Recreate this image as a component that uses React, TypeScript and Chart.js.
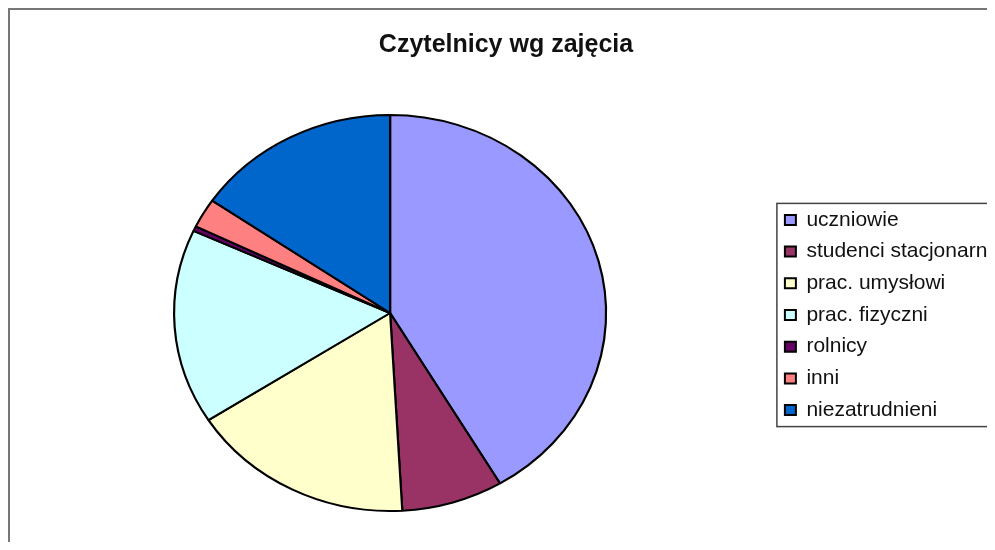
import React, { useEffect, useRef } from "react";
import { Chart, registerables } from "chart.js";

Chart.register(...registerables);

const titleText = "Czytelnicy wg zajęcia";
const categories = [
  "uczniowie",
  "studenci stacjonarni",
  "prac. umysłowi",
  "prac. fizyczni",
  "rolnicy",
  "inni",
  "niezatrudnieni",
];
const shares = [41.5, 7.6, 16.8, 15.9, 0.4, 2.4, 15.4];
const sliceColors = ["#9999FF", "#993366", "#FFFFCC", "#CCFFFF", "#660066", "#FF8080", "#0066CC"];

const stretchPlugin = {
  id: "stretchPie",
  beforeDatasetsDraw(chart: any) {
    const arc = chart.getDatasetMeta(0).data[0];
    if (!arc) return;
    const ctx = chart.ctx;
    const ox = arc.x + 22;
    ctx.save();
    ctx.translate(ox, arc.y);
    ctx.scale(216 / 198, 1);
    ctx.translate(-ox, -arc.y);
  },
  afterDatasetsDraw(chart: any) {
    chart.ctx.restore();
  },
};

const legendFramePlugin = {
  id: "legendFrame",
  afterDraw(chart: any) {
    const boxes = chart.legend && chart.legend.legendHitBoxes;
    if (!boxes || !boxes.length) return;
    const ctx = chart.ctx;
    let left = Infinity, top = Infinity, right = -Infinity, bottom = -Infinity;
    boxes.forEach((b: any) => {
      left = Math.min(left, b.left);
      top = Math.min(top, b.top);
      right = Math.max(right, b.left + b.width);
      bottom = Math.max(bottom, b.top + b.height);
    });
    ctx.save();
    ctx.strokeStyle = "#444";
    ctx.lineWidth = 1.5;
    ctx.strokeRect(left - 8, top - 6, right - left + 30, bottom - top + 12);
    ctx.restore();
  },
};

export default function App() {
  const ref = useRef<HTMLCanvasElement>(null);
  useEffect(() => {
    document.documentElement.style.overflow = "hidden";
    if (!ref.current) return;
    const chart = new Chart(ref.current, {
      type: "pie",
      data: {
        labels: categories,
        datasets: [
          {
            data: shares,
            backgroundColor: sliceColors,
            borderColor: "#000",
            borderWidth: 2,
            radius: 198,
          },
        ],
      },
      options: {
        responsive: false,
        animation: false,
        layout: { padding: { left: 0, right: 48, top: 0, bottom: 6 } },
        plugins: {
          title: {
            display: true,
            text: titleText,
            color: "#111",
            font: { family: "'Liberation Sans', Arial, sans-serif", size: 25, weight: "bold" },
            padding: { top: 20, bottom: 30 },
          },
          legend: {
            position: "right",
            title: {
              display: true,
              text: " ",
              font: { size: 10 },
              padding: { top: 0, bottom: 72 },
            },
            labels: {
              color: "#111",
              boxWidth: 11,
              boxHeight: 10,
              padding: 10.7,
              font: { family: "'Liberation Sans', Arial, sans-serif", size: 21 },
            },
          },
          tooltip: { enabled: false },
        },
      },
      plugins: [stretchPlugin, legendFramePlugin],
    });
    return () => chart.destroy();
  }, []);
  return (
    <div
      style={{
        width: 1000,
        height: 534,
        borderLeft: "2px solid #777",
        borderTop: "2px solid #777",
        overflow: "hidden",
        boxSizing: "border-box",
        background: "#fff",
      }}
    >
      <canvas ref={ref} width={1040} height={532} style={{ display: "block" }} />
    </div>
  );
}
